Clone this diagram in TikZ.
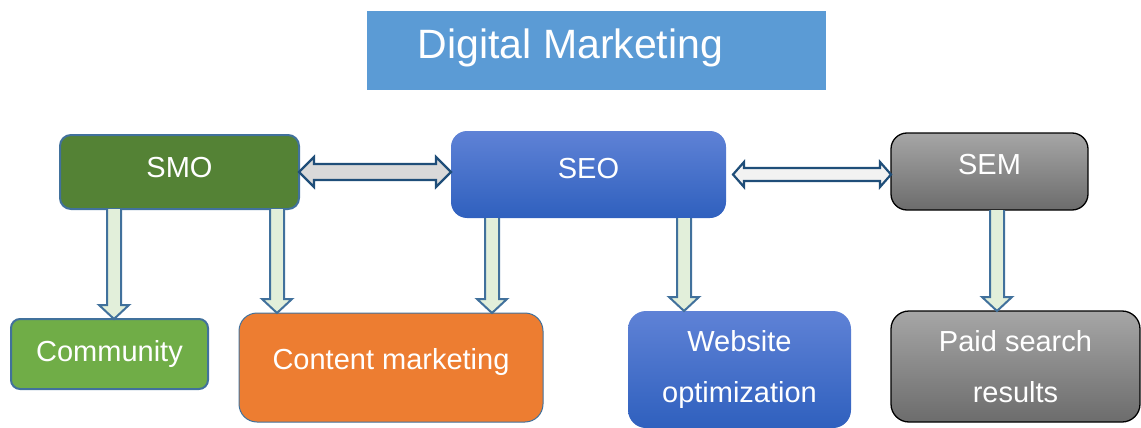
\documentclass[tikz,border=0pt]{standalone}
\usepackage{fontspec}
\setmainfont{Liberation Sans}
\usetikzlibrary{calc, positioning}
\definecolor{titleblue}{RGB}{91,155,213}
\definecolor{smogreen}{RGB}{84,130,53}
\definecolor{commgreen}{RGB}{112,173,71}
\definecolor{contorange}{RGB}{237,125,49}
\definecolor{edgeblue}{RGB}{65,113,156}
\definecolor{seotop}{RGB}{95,130,214}
\definecolor{seobottom}{RGB}{47,96,190}
\definecolor{semtop}{RGB}{166,166,166}
\definecolor{sembottom}{RGB}{108,108,108}
\definecolor{arrowgreen}{RGB}{226,239,218}
\definecolor{arrowdark}{RGB}{31,78,121}

% block arrow pointing down: start point, target node
\newcommand\blockdown[2]{%
  \filldraw[downblock] let \p1=(#1), \p2=(#1 |- #2.north) in
    (\x1+7,\y1) -- (\x1+7,\y2+14) -- (\x1+15,\y2+14) -- (\x2,\y2)
    -- (\x1-15,\y2+14) -- (\x1-7,\y2+14) -- (\x1-7,\y1);}
% two-headed block arrow: style, start point, target node, shaft, head, tip length
\newcommand\blockboth[6]{%
  \filldraw[#1] let \p1=(#2), \p2=(#2 -| #3.west) in
    (\x1,\y1) -- (\x1+#6,\y1+#5) -- (\x1+#6,\y1+#4) -- (\x2-#6,\y1+#4)
    -- (\x2-#6,\y1+#5) -- (\x2,\y1) -- (\x2-#6,\y1-#5) -- (\x2-#6,\y1-#4)
    -- (\x1+#6,\y1-#4) -- (\x1+#6,\y1-#5) -- cycle;}

\begin{document}
\begin{tikzpicture}[
    x=1pt, y=1pt,
    box/.style={rectangle, inner sep=0pt, outer sep=0pt, text=white, align=center, font=\fontsize{29}{51}\selectfont},
    raise/.style={text height=21pt, text depth=#1},
    greenbox/.style={box, rounded corners=11pt, draw=edgeblue, line width=2pt},
    bluebox/.style={box, rounded corners=16pt, top color=seotop, bottom color=seobottom},
    graybox/.style={box, rounded corners=16pt, draw=black, line width=1.3pt, top color=semtop, bottom color=sembottom},
    downblock/.style={draw=edgeblue, fill=arrowgreen, line width=2pt, line join=miter},
    sideblock/.style={draw=arrowdark, line width=2.2pt, line join=miter}
]
\useasboundingbox (0,0) rectangle (1141,-428);

\node (title) [box, fill=titleblue, minimum width=459, minimum height=79,
  label={[text=white, font=\fontsize{41}{48}\selectfont, xshift=-26pt, yshift=3pt]center:Digital Marketing}] at (596.5,-50.5) {};

\node (smo) [greenbox, fill=smogreen, raise=10pt, minimum width=239, minimum height=74] at (179.5,-172) {SMO};
\node (seo) [bluebox, raise=14pt, minimum width=275, minimum height=87] at (588.5,-174.5) {SEO};
\node (sem) [graybox, raise=16pt, minimum width=197, minimum height=77] at (989.5,-171.5) {SEM};

\node (community) [greenbox, fill=commgreen, raise=6pt, rounded corners=9pt, minimum width=197, minimum height=70] at (109.5,-354) {Community};
\node (content) [box, fill=contorange, draw=edgeblue, line width=1pt, raise=17pt, rounded corners=18pt, minimum width=304, minimum height=109] at (391,-367.5) {Content marketing};
\node (website) [bluebox, rounded corners=18pt, minimum width=223, minimum height=117] at (739.5,-369.5) {Website\\optimization};
\node (paid) [graybox, rounded corners=18pt, minimum width=249, minimum height=111] at (1015.5,-366.5) {Paid search\\results};

\coordinate (s1) at ([xshift=54]smo.south west);
\coordinate (s2) at ([xshift=217]smo.south west);
\coordinate (s3) at ([xshift=41]seo.south west);
\coordinate (s4) at ([xshift=233]seo.south west);
\coordinate (s5) at ([xshift=106]sem.south west);
\coordinate (e1) at (smo.east);
\coordinate (e2) at ([xshift=7]seo.east);

\blockdown{s1}{community}
\blockdown{s2}{content}
\blockdown{s3}{content}
\blockdown{s4}{website}
\blockdown{s5}{paid}

\blockboth{sideblock, fill=black!15}{e1}{seo}{8}{15}{15}
\blockboth{sideblock, fill=black!5}{e2}{sem}{6.5}{12.5}{11}

\end{tikzpicture}
\end{document}
